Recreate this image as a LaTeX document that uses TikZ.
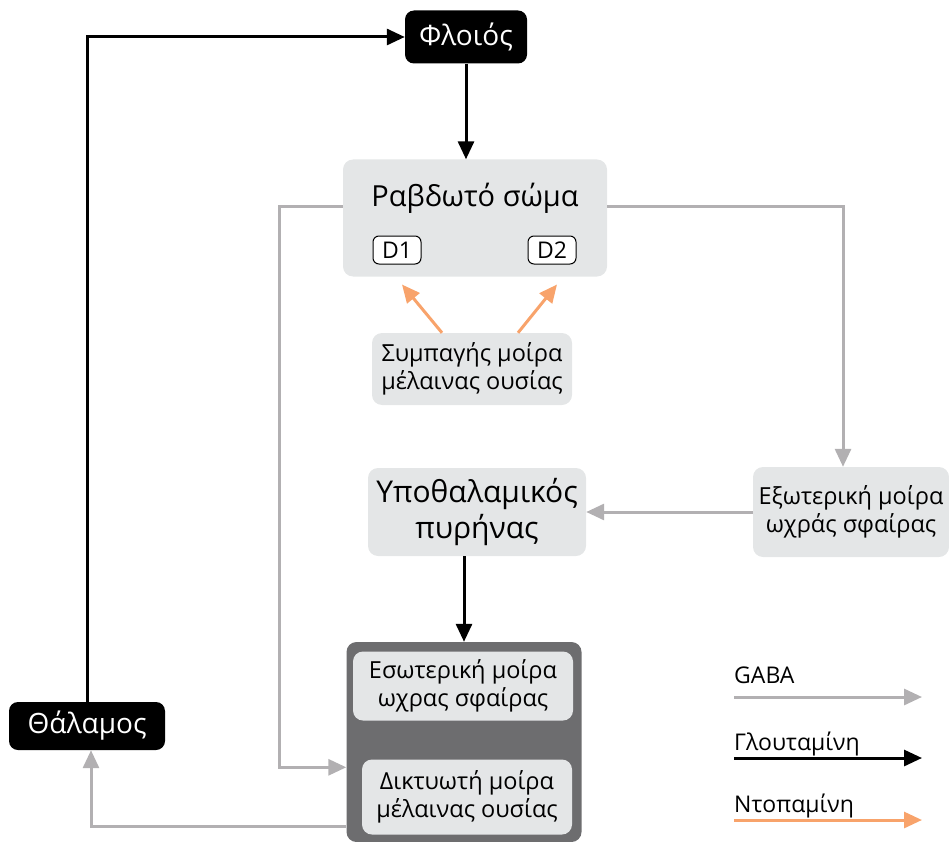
\documentclass[tikz,border=0pt]{standalone}
\usepackage{fontspec}
\setmainfont{Open Sans}
\usepackage{xcolor}
\usepackage{tikz}
\usetikzlibrary{arrows.meta}
\usetikzlibrary{positioning}
\definecolor{boxgrey}{HTML}{E4E6E7}
\definecolor{darkgrey}{HTML}{6D6D6F}
\definecolor{gabagrey}{HTML}{B2B0B2}
\definecolor{dopaorange}{HTML}{F8A36B}
\tikzstyle{station}=[rectangle,rounded corners=9pt,fill=black,text=white,align=center,inner sep=0pt,font=\fontsize{28}{32}\selectfont]
\tikzstyle{region}=[rectangle,rounded corners=10pt,fill=boxgrey,align=center,inner sep=0pt,font=\fontsize{23.5}{28.5}\selectfont]
\tikzstyle{recep}=[rectangle,rounded corners=6pt,draw=black,line width=1pt,fill=white,inner sep=0pt,minimum width=48pt,minimum height=28pt,font=\fontsize{23}{26}\selectfont]
\tikzstyle{legend}=[anchor=base west,inner sep=0pt,font=\fontsize{23}{26}\selectfont]
\tikzstyle{gaba}=[draw,gabagrey,line width=3pt,-{Triangle[length=18pt,width=16pt]}]
\tikzstyle{glut}=[draw,black,line width=3pt,-{Triangle[length=18pt,width=16pt]}]
\tikzstyle{dopa}=[draw,dopaorange,line width=3pt,-{Triangle[length=18pt,width=16pt]}]

\begin{document}
\begin{tikzpicture}[x=1pt,y=-1pt]
	\useasboundingbox (0,0) rectangle (949,842);

	\node[station, minimum width=122, minimum height=53] (phloios) at (466,37) {Φλοιός};
	\node[station, minimum width=156, minimum height=48] (thal) at (87,726) {Θάλαμος};

	\node[region, minimum width=264, minimum height=117] (rabd) at (475,218) {};
	\node[anchor=base, inner sep=0pt, font=\fontsize{29}{33}\selectfont] (rabdtxt) at (475,207) {Ραβδωτό σώμα};
	\node[recep] (d1) at (397,250) {D1};
	\node[recep] (d2) at (552,250) {D2};

	\node[region, minimum width=200, minimum height=72] (sympag) at (472,369) {Συμπαγής μοίρα\\ μέλαινας ουσίας};
	\node[region, minimum width=218, minimum height=88, font=\fontsize{30}{36}\selectfont] (ypoth) at (477,512) {Υποθαλαμικός\\ πυρήνας};
	\node[region, minimum width=196, minimum height=90] (exot) at (851,512) {Εξωτερική μοίρα\\ ωχράς σφαίρας};

	% % % pallidum / nigra block
	\node[rectangle, rounded corners=10pt, fill=darkgrey, minimum width=235, minimum height=200] (pallid) at (464,742) {};
	\node[region, minimum width=220, minimum height=69] (esot) at (463,686) {Εσωτερική μοίρα\\ ωχρας σφαίρας};
	\node[region, minimum width=210, minimum height=75] (diktyo) at (467,797) {Δικτυωτή μοίρα\\ μέλαινας ουσίας};

	\path[glut] (thal.north) |- (phloios.west);
	\path[glut] (phloios.south) -- (phloios.south |- rabd.north);
	\path[glut] (ypoth.south -| pallid.north) -- (pallid.north);

	\path[gaba] ([yshift=11pt]rabd.west) -- ++(-63,0) |- ([yshift=-8pt]pallid.west |- diktyo.north);
	\path[gaba] ([yshift=11pt]rabd.east) -| ([xshift=-8pt]exot.north);
	\path[gaba] (exot) -- (ypoth);
	\path[gaba] ([yshift=8pt]pallid.west |- diktyo.south) -| ([xshift=4pt]thal.south);

	\path[dopa] ([xshift=-30pt]sympag.north) -- ([xshift=5pt,yshift=-20pt]d1.south);
	\path[dopa] ([xshift=46pt]sympag.north) -- ([xshift=5pt,yshift=-20pt]d2.south);

	% % % legend
	\node[legend] (lgaba) at (734,683) {GABA};
	\node[legend] (lglut) at (734,750) {Γλουταμίνη};
	\node[legend] (ldopa) at (734,812) {Ντοπαμίνη};
	\coordinate (gabaA) at (734,697);
	\coordinate (gabaB) at (922,697);
	\coordinate (glutA) at (734,758);
	\coordinate (glutB) at (922,758);
	\coordinate (dopaA) at (734,820);
	\coordinate (dopaB) at (922,820);
	\path[gaba] (gabaA) -- (gabaB);
	\path[glut] (glutA) -- (glutB);
	\path[dopa] (dopaA) -- (dopaB);
\end{tikzpicture}
\end{document}
